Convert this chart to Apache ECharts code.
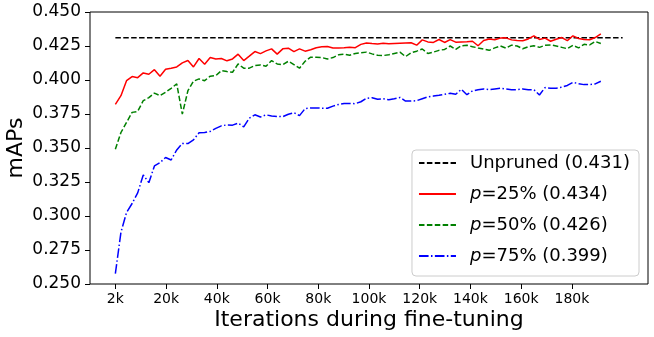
<!DOCTYPE html>
<html>
<head>
<meta charset="utf-8">
<script src="https://cdn.jsdelivr.net/npm/echarts@6/dist/echarts.min.js"></script>
<style>
  html, body { margin: 0; padding: 0; background: #fff; }
</style>
</head>
<body>
<!-- 画布容器 -->
<div id="chart" style="width: 654px;height:337px;"></div>
<script>
// 每 2.2k 次迭代评估一次
const iterStep = 2200
const unprunedMap = 0.431
const unprunedRange = [0, 200000]

const xTicks = [0, 20000, 40000, 60000, 80000, 100000, 120000, 140000, 160000, 180000]
const xTickLabels = ['2k', '20k', '40k', '60k', '80k', '100k', '120k', '140k', '160k', '180k']

const legendNames = ['Unpruned (0.431)', 'p=25% (0.434)', 'p=50% (0.426)', 'p=75% (0.399)']

const p25 = [
  0.3821, 0.3885, 0.3995, 0.4025, 0.4017, 0.4052, 0.4042, 0.4076, 0.4028, 0.4079,
  0.4087, 0.4096, 0.4126, 0.4143, 0.4096, 0.4158, 0.4116, 0.4165, 0.4155, 0.4158,
  0.4141, 0.4155, 0.4190, 0.4143, 0.4175, 0.4209, 0.4194, 0.4214, 0.4229, 0.4190,
  0.4229, 0.4234, 0.4209, 0.4229, 0.4212, 0.4222, 0.4237, 0.4244, 0.4246, 0.4236,
  0.4235, 0.4237, 0.4240, 0.4238, 0.4262, 0.4272, 0.4268, 0.4265, 0.4270, 0.4266,
  0.4268, 0.4270, 0.4272, 0.4274, 0.4256, 0.4295, 0.4280, 0.4276, 0.4298, 0.4276,
  0.4297, 0.4278, 0.4280, 0.4282, 0.4285, 0.4252, 0.4290, 0.4302, 0.4296, 0.4308,
  0.4310, 0.4295, 0.4290, 0.4288, 0.4302, 0.4325, 0.4298, 0.4308, 0.4285, 0.4300,
  0.4312, 0.4290, 0.4325, 0.4305, 0.4298, 0.4296, 0.4312, 0.4339
]

const p50 = [
  0.3491, 0.3614, 0.3688, 0.3762, 0.3769, 0.3848, 0.3870, 0.3904, 0.3885, 0.3910,
  0.3939, 0.3971, 0.3749, 0.3921, 0.3991, 0.4008, 0.3995, 0.4028, 0.4032, 0.4069,
  0.4062, 0.4057, 0.4118, 0.4087, 0.4087, 0.4106, 0.4111, 0.4101, 0.4143, 0.4118,
  0.4113, 0.4138, 0.4113, 0.4087, 0.4138, 0.4168, 0.4168, 0.4165, 0.4155, 0.4165,
  0.4185, 0.4190, 0.4182, 0.4195, 0.4200, 0.4205, 0.4192, 0.4182, 0.4180, 0.4185,
  0.4195, 0.4205, 0.4172, 0.4200, 0.4212, 0.4228, 0.4195, 0.4205, 0.4218, 0.4225,
  0.4250, 0.4225, 0.4252, 0.4255, 0.4245, 0.4236, 0.4228, 0.4218, 0.4236, 0.4250,
  0.4234, 0.4256, 0.4250, 0.4230, 0.4245, 0.4252, 0.4240, 0.4255, 0.4258, 0.4250,
  0.4240, 0.4230, 0.4255, 0.4236, 0.4262, 0.4258, 0.4283, 0.4268
]

const p75 = [
  0.2576, 0.2880, 0.3025, 0.3092, 0.3170, 0.3302, 0.3245, 0.3368, 0.3392, 0.3430,
  0.3412, 0.3486, 0.3533, 0.3533, 0.3560, 0.3612, 0.3614, 0.3622, 0.3644, 0.3663,
  0.3670, 0.3668, 0.3683, 0.3655, 0.3720, 0.3744, 0.3728, 0.3744, 0.3735, 0.3732,
  0.3730, 0.3748, 0.3760, 0.3738, 0.3790, 0.3794, 0.3795, 0.3793, 0.3792, 0.3808,
  0.3820, 0.3828, 0.3828, 0.3826, 0.3840, 0.3865, 0.3870, 0.3858, 0.3862, 0.3855,
  0.3862, 0.3872, 0.3845, 0.3845, 0.3848, 0.3862, 0.3876, 0.3882, 0.3888, 0.3895,
  0.3902, 0.3895, 0.3932, 0.3892, 0.3920, 0.3928, 0.3934, 0.3929, 0.3934, 0.3939,
  0.3934, 0.3929, 0.3929, 0.3934, 0.3929, 0.3929, 0.3890, 0.3944, 0.3940, 0.3940,
  0.3947, 0.3960, 0.3983, 0.3973, 0.3966, 0.3966, 0.3971, 0.3991
]

const font = 'DejaVu Sans'
const toPairs = arr => arr.map((v, i) => [i * iterStep, v])

const chart = echarts.init(document.getElementById('chart'))

const option = {
  animation: false,
  backgroundColor: '#fff',
  grid: {
    left: 90,
    right: 6,
    top: 12,
    bottom: 53,
    show: true,
    borderColor: '#000',
    borderWidth: 1,
    outerBoundsMode: 'none'
  },
  legend: {
    orient: 'vertical',
    top: 150,
    right: 15,
    data: legendNames,
    itemWidth: 37,
    itemHeight: 14,
    itemGap: 11,
    padding: [3, 9, 10, 6],
    backgroundColor: 'rgba(255,255,255,0.8)',
    borderColor: '#ccc',
    borderWidth: 1,
    borderRadius: 4,
    // 只显示线段，不显示圆点
    itemStyle: { opacity: 0 },
    formatter: name => name.startsWith('p=') ? '{i|p}' + name.slice(1) : name,
    textStyle: {
      fontFamily: font,
      fontSize: 18,
      color: '#000',
      lineHeight: 20,
      padding: [0, 0, 0, 9],
      rich: {
        i: { fontFamily: font, fontSize: 18, fontStyle: 'italic', color: '#000' }
      }
    }
  },
  xAxis: {
    type: 'value',
    min: -10000,
    max: 210000,
    name: 'Iterations during fine-tuning',
    nameLocation: 'middle',
    nameGap: 25,
    nameMoveOverlap: false,
    nameTextStyle: { fontFamily: font, fontSize: 22, color: '#000' },
    axisLine: { show: false, onZero: false },
    splitLine: { show: false },
    axisTick: { show: true, length: 5, customValues: xTicks, lineStyle: { color: '#000' } },
    axisLabel: {
      customValues: xTicks,
      margin: 8,
      fontFamily: font,
      fontSize: 14,
      color: '#000',
      formatter: v => xTickLabels[xTicks.indexOf(v)]
    }
  },
  yAxis: {
    type: 'value',
    min: 0.25,
    max: 0.45,
    interval: 0.025,
    name: 'mAPs',
    nameLocation: 'middle',
    nameRotate: 90,
    nameGap: 63,
    nameMoveOverlap: false,
    nameTextStyle: { fontFamily: font, fontSize: 22, color: '#000' },
    axisLine: { show: false, onZero: false },
    splitLine: { show: false },
    axisTick: { show: true, length: 5, lineStyle: { color: '#000' } },
    axisLabel: {
      margin: 9,
      fontFamily: font,
      fontSize: 17,
      color: '#000',
      formatter: v => v.toFixed(3)
    }
  },
  series: [
    {
      name: legendNames[0],
      type: 'line',
      symbol: 'none',
      data: unprunedRange.map(x => [x, unprunedMap]),
      lineStyle: { color: '#000', width: 1.5, type: [5.5, 2.4] },
      itemStyle: { color: '#000' }
    },
    {
      name: legendNames[1],
      type: 'line',
      symbol: 'none',
      data: toPairs(p25),
      lineStyle: { color: '#ff0000', width: 1.5 },
      itemStyle: { color: '#ff0000' }
    },
    {
      name: legendNames[2],
      type: 'line',
      symbol: 'none',
      data: toPairs(p50),
      lineStyle: { color: '#008000', width: 1.5, type: [5.5, 2.4] },
      itemStyle: { color: '#008000' }
    },
    {
      name: legendNames[3],
      type: 'line',
      symbol: 'none',
      data: toPairs(p75),
      lineStyle: { color: '#0000ff', width: 1.5, type: [9.6, 2.4, 1.5, 2.4] },
      itemStyle: { color: '#0000ff' }
    }
  ]
}

chart.setOption(option)
</script>
</body>
</html>
